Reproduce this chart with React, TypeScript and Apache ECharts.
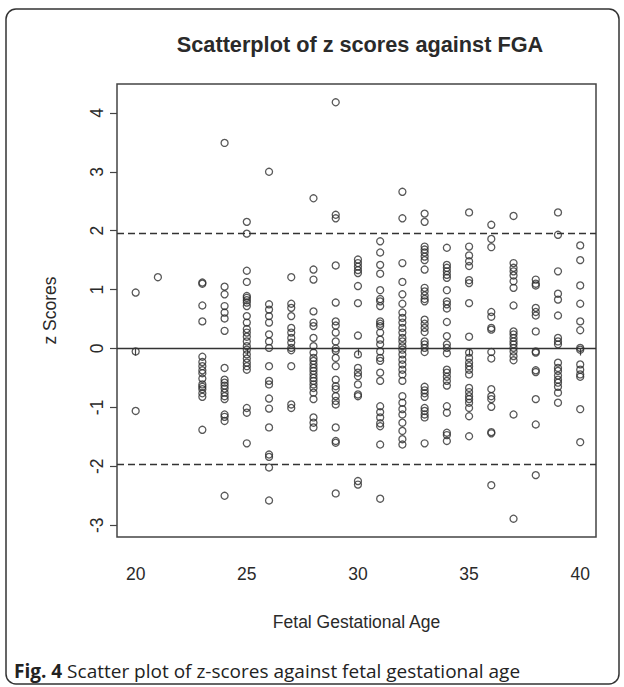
import React, { useEffect, useRef } from "react";
import * as echarts from "echarts";

// z scores, grouped by fetal gestational age (weeks)
const z20 = [0.95, -0.05, -1.06];
const z21 = [1.21];
const z23 = [1.12, 1.1, 0.73, 0.46, -0.14, -0.23, -0.3, -0.37, -0.42, -0.51, -0.61, -0.65, -0.69, -0.76, -0.82, -1.38];
const z24 = [3.49, 1.05, 0.92, 0.72, 0.61, 0.51, 0.3, -0.33, -0.53, -0.58, -0.63, -0.68, -0.75, -0.81, -0.86, -1.12, -1.16, -1.23, -2.5];
const z25 = [2.15, 1.95, 1.32, 1.13, 0.89, 0.86, 0.82, 0.78, 0.72, 0.55, 0.44, 0.33, 0.27, 0.2, 0.12, 0.04, -0.02, -0.1, -0.17, -0.24, -0.3, -0.36, -1.01, -1.09, -1.61];
const z26 = [3.0, 0.75, 0.66, 0.55, 0.44, 0.24, 0.12, 0.01, -0.3, -0.55, -0.61, -0.85, -1.02, -1.34, -1.8, -1.84, -2.02, -2.58];
const z27 = [1.21, 0.76, 0.69, 0.55, 0.35, 0.27, 0.18, 0.1, 0.01, -0.03, -0.3, -0.95, -1.01];
const z28 = [2.55, 1.34, 1.17, 0.63, 0.44, 0.38, 0.18, 0.04, -0.07, -0.16, -0.21, -0.27, -0.33, -0.38, -0.44, -0.5, -0.55, -0.61, -0.67, -0.75, -0.86, -1.17, -1.26, -1.34];
const z29 = [4.18, 2.27, 2.21, 1.41, 0.78, 0.46, 0.39, 0.27, 0.12, 0.0, -0.04, -0.16, -0.3, -0.53, -0.64, -0.69, -0.81, -0.89, -0.95, -1.34, -1.57, -1.6, -2.46];
const z30 = [1.51, 1.45, 1.39, 1.33, 1.28, 1.06, 0.77, 0.22, -0.1, -0.33, -0.41, -0.47, -0.61, -0.78, -0.81, -2.25, -2.31];
const z31 = [1.82, 1.63, 1.42, 1.27, 0.99, 0.84, 0.8, 0.72, 0.46, 0.42, 0.38, 0.27, 0.15, 0.07, -0.05, -0.16, -0.21, -0.41, -0.55, -0.98, -1.08, -1.17, -1.27, -1.32, -1.63, -2.55];
const z32 = [2.66, 2.21, 1.45, 1.13, 0.92, 0.76, 0.61, 0.52, 0.44, 0.35, 0.27, 0.18, 0.12, 0.04, -0.02, -0.1, -0.19, -0.27, -0.36, -0.44, -0.55, -0.81, -0.92, -1.03, -1.12, -1.26, -1.4, -1.54, -1.63];
const z33 = [2.29, 2.15, 1.73, 1.68, 1.63, 1.56, 1.5, 1.34, 1.03, 0.97, 0.9, 0.84, 0.8, 0.49, 0.42, 0.35, 0.28, 0.12, 0.07, 0.01, -0.06, -0.65, -0.71, -0.76, -0.82, -1.01, -1.06, -1.12, -1.17, -1.61];
const z34 = [1.71, 1.42, 1.37, 1.31, 1.25, 1.2, 0.99, 0.8, 0.75, 0.68, 0.45, 0.21, 0.07, 0.01, -0.08, -0.36, -0.41, -0.48, -0.55, -0.63, -0.98, -1.09, -1.43, -1.47, -1.57];
const z35 = [2.31, 1.73, 1.58, 1.48, 1.4, 1.16, 1.11, 0.77, 0.2, -0.07, -0.16, -0.24, -0.3, -0.36, -0.44, -0.67, -0.74, -0.81, -0.86, -0.92, -1.01, -1.15, -1.49];
const z36 = [2.1, 1.86, 1.72, 0.62, 0.54, 0.35, 0.32, -0.06, -0.17, -0.69, -0.81, -0.86, -0.99, -1.42, -1.44, -2.32];
const z37 = [2.25, 1.45, 1.37, 1.31, 1.24, 1.14, 1.03, 0.73, 0.29, 0.24, 0.18, 0.12, 0.07, 0.01, -0.05, -0.13, -0.2, -1.12, -2.89];
const z38 = [1.17, 1.1, 1.07, 0.69, 0.62, 0.56, 0.29, -0.05, -0.07, -0.37, -0.4, -0.86, -1.29, -2.15];
const z39 = [2.31, 1.93, 1.31, 0.93, 0.83, 0.56, 0.18, 0.12, 0.07, -0.24, -0.33, -0.38, -0.46, -0.53, -0.58, -0.65, -0.75, -0.92];
const z40 = [1.75, 1.5, 1.07, 0.76, 0.46, 0.31, 0.01, -0.02, -0.27, -0.36, -0.44, -0.48, -1.03, -1.59];

const weeks = [20, 21, 23, 24, 25, 26, 27, 28, 29, 30, 31, 32, 33, 34, 35, 36, 37, 38, 39, 40];
const zByWeek = [z20, z21, z23, z24, z25, z26, z27, z28, z29, z30, z31, z32, z33, z34, z35, z36, z37, z38, z39, z40];

const xTicks = [20, 25, 30, 35, 40];
const yTicks = [-3, -2, -1, 0, 1, 2, 3, 4];
const solidRef = [0];
const dashedRef = [1.96, -1.96];

const FONT = "'Liberation Sans', Arial, Helvetica, sans-serif";
const CAPTION_FONT = "'Open Sans', 'Noto Sans', sans-serif";
const INK = "#2a2a2a";

export default function App() {
  const ref = useRef<HTMLDivElement>(null);
  useEffect(() => {
    document.body.style.margin = "0";
    const chart = echarts.init(ref.current!, null, { renderer: "svg" });
    const points: [number, number][] = [];
    weeks.forEach((w, i) => zByWeek[i].forEach((z) => points.push([w, z])));

    chart.setOption({
      animation: false,
      backgroundColor: "#ffffff",
      title: {
        text: "Scatterplot of z scores against FGA",
        left: 355,
        top: 28,
        textAlign: "center",
        textStyle: { fontFamily: FONT, fontSize: 21.7, fontWeight: "bold", color: INK },
      },
      grid: {
        left: 117,
        right: 28,
        top: 84,
        bottom: 150,
        show: true,
        borderColor: "#444",
        borderWidth: 1.5,
        backgroundColor: "transparent",
      },
      xAxis: {
        type: "value",
        min: 19.16,
        max: 40.71,
        name: "Fetal Gestational Age",
        nameLocation: "middle",
        nameGap: 76,
        nameTextStyle: { fontFamily: FONT, fontSize: 17.5, color: INK },
        axisLine: { show: false },
        splitLine: { show: false },
        axisTick: { show: true, length: 7, customValues: xTicks, lineStyle: { color: "#444", width: 1.2 } },
        axisLabel: { customValues: xTicks, margin: 28, fontFamily: FONT, fontSize: 17.5, color: INK },
      },
      yAxis: {
        type: "value",
        min: -3.2,
        max: 4.49,
        name: "z Scores",
        nameLocation: "middle",
        nameGap: 58,
        nameRotate: 90,
        nameTextStyle: { fontFamily: FONT, fontSize: 17.5, color: INK },
        axisLine: { show: false },
        splitLine: { show: false },
        axisTick: { show: true, length: 7, customValues: yTicks, lineStyle: { color: "#444", width: 1.2 } },
        axisLabel: { customValues: yTicks, rotate: 90, margin: 11, fontFamily: FONT, fontSize: 17.5, color: INK },
      },
      series: [
        {
          type: "scatter",
          data: points,
          symbol: "circle",
          symbolSize: 7,
          itemStyle: { color: "transparent", borderColor: "#2e2e2e", borderWidth: 1.3 },
          markLine: {
            silent: true,
            symbol: ["none", "none"],
            label: { show: false },
            lineStyle: { color: "#333", width: 1.3 },
            data: [
              ...solidRef.map((v) => ({ yAxis: v, lineStyle: { type: "solid", color: "#333", width: 1.4 } })),
              ...dashedRef.map((v) => ({ yAxis: v, lineStyle: { type: [7, 4], color: "#333", width: 1.3 } })),
            ],
          },
        },
      ],
      graphic: [
        {
          type: "rect",
          shape: { x: 6, y: 9, width: 613, height: 675, r: 10 },
          style: { fill: "none", stroke: "#333", lineWidth: 1.5 },
          silent: true,
        },
        {
          type: "text",
          x: 14,
          y: 671,
          style: {
            text: "{b|Fig. 4} Scatter plot of z-scores against fetal gestational age",
            fontFamily: CAPTION_FONT,
            fontSize: 19,
            fill: "#222",
            verticalAlign: "middle",
            rich: {
              b: { fontFamily: CAPTION_FONT, fontSize: 19, fontWeight: "bold", fill: "#222" },
            },
          },
        },
      ],
    });
    return () => chart.dispose();
  }, []);
  return <div ref={ref} style={{ width: 624, height: 687 }} />;
}
